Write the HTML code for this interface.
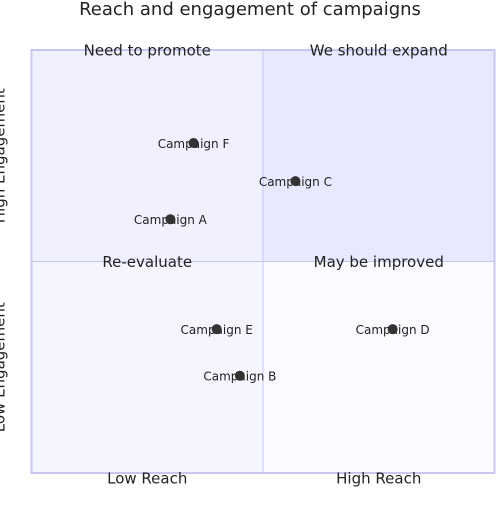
<!DOCTYPE html>
<html><head><meta charset="utf-8"><style>
body{margin:0;background:#fff;}
svg{display:block;font-family:"DejaVu Sans","Liberation Sans",sans-serif;}
</style></head><body>
<svg id="chart" width="500" height="510">
<text x="250" y="10" text-anchor="middle" font-size="18" fill="#222" dominant-baseline="middle">Reach and engagement of campaigns</text>
<g id="quads"></g>
<g id="points"></g>
</svg>
<script>
const names=["Campaign A","Campaign B","Campaign C","Campaign D","Campaign E","Campaign F"];
const reach=[0.3,0.45,0.57,0.78,0.40,0.35];
const engagement=[0.6,0.23,0.69,0.34,0.34,0.78];
const quadrantLabels=["We should expand","Need to promote","Re-evaluate","May be improved"];
const xAxisLabels=["Low Reach","High Reach"];
const yAxisLabels=["Low Engagement","High Engagement"];
const L=31.5,T=50,W=463,H=423;
const sx=v=>L+v*W, sy=v=>T+H-v*H;
const NS="http://www.w3.org/2000/svg";
const q=document.getElementById('quads'), p=document.getElementById('points');
function mk(tag,attrs,parent){const e=document.createElementNS(NS,tag);for(const k in attrs)e.setAttribute(k,attrs[k]);parent.appendChild(e);return e;}
const quads=[[0.5,1,"#e8e8ff"],[0,1,"#f0f0ff"],[0,0.5,"#f5f5ff"],[0.5,0.5,"#fbfbff"]];
quads.forEach((d,i)=>{
 const r=mk('rect',{x:sx(d[0]),y:sy(d[1]),width:W/2,height:H/2,fill:d[2]},q);
 
 
});
const b=mk('rect',{x:L,y:T,width:W,height:H,fill:"none",stroke:"#c7c7f1","stroke-width":2},q);


const l1=mk('line',{x1:sx(0.5),x2:sx(0.5),y1:T,y2:T+H,stroke:"#c7c7f1","stroke-width":1},q);


const l2=mk('line',{x1:L,x2:L+W,y1:sy(0.5),y2:sy(0.5),stroke:"#c7c7f1","stroke-width":1},q);


const qpos=[[0.75,1],[0.25,1],[0.25,0.5],[0.75,0.5]];
quadrantLabels.forEach((t,i)=>{
 const e=mk('text',{x:sx(qpos[i][0]),y:sy(qpos[i][1])+1,"text-anchor":"middle","font-size":15,fill:"#222","dominant-baseline":"middle"},q);
 e.textContent=t;
 
 
});
xAxisLabels.forEach((t,i)=>{
 const e=mk('text',{x:sx(0.25+0.5*i),y:479,"text-anchor":"middle","font-size":15,fill:"#222","dominant-baseline":"middle"},q);
 e.textContent=t;
 
 
});
yAxisLabels.forEach((t,i)=>{
 const y=sy(0.25+0.5*i);
 const e=mk('text',{x:0,y:y,"text-anchor":"middle","font-size":15,fill:"#222","dominant-baseline":"middle",transform:`rotate(-90 0 ${y})`},q);
 e.textContent=t;
 
 
});
names.forEach((n,i)=>{
 const x=sx(reach[i]),y=sy(engagement[i]);
 const t=mk('text',{x:x,y:y+5,"text-anchor":"middle","font-size":12,fill:"#222"},p);
 t.textContent=n;
 
 
 const c=mk('circle',{cx:x,cy:y,r:5,fill:"#333"},p);
 
 
});
</script>
</body></html>
